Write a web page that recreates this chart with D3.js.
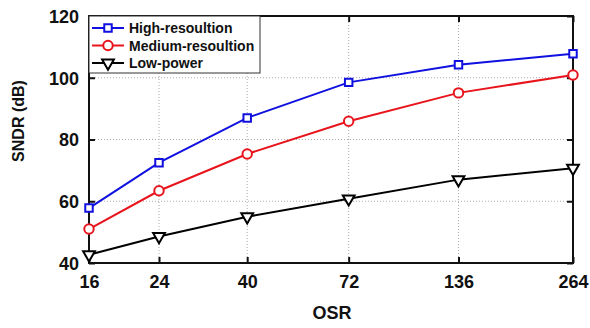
<!DOCTYPE html>
<html>
<head>
<meta charset="utf-8">
<script src="https://cdn.jsdelivr.net/npm/d3@7"></script>
<style>
  body { margin: 0; background: #fff; }
  svg { display: block; font-family: Arial, 'Liberation Sans', sans-serif; font-weight: bold; }
</style>
</head>
<body>
<div id="chart"></div>
<script>
// data
const osr = [16, 24, 40, 72, 136, 264]
const highRes = [57.8, 72.5, 87.0, 98.5, 104.2, 107.8]
const mediumRes = [51.0, 63.4, 75.3, 85.9, 95.1, 100.9]
const lowPower = [42.7, 48.6, 55.0, 60.8, 67.0, 70.7]
const yTicks = [40, 60, 80, 100, 120]

const series = [
  { name: 'High-resoultion', values: highRes, color: '#1010e0', marker: 'square' },
  { name: 'Medium-resoultion', values: mediumRes, color: '#e8141c', marker: 'circle' },
  { name: 'Low-power', values: lowPower, color: '#000', marker: 'triangle' }
]

const WIDTH = 590
const HEIGHT = 328
const MARGIN = { top: 16, right: 17, bottom: 65, left: 89 }

const width = WIDTH - MARGIN.left - MARGIN.right
const height = HEIGHT - MARGIN.top - MARGIN.bottom

const x = d3.scaleLog().base(2).domain([16, 264]).range([0, width])
const y = d3.scaleLinear().domain([40, 120]).range([height, 0])

const svg = d3.select('#chart').append('svg')
  .attr('width', WIDTH)
  .attr('height', HEIGHT)

svg.append('rect').attr('width', '100%').attr('height', '100%').attr('fill', 'white')

const g = svg.append('g').attr('transform', `translate(${MARGIN.left}, ${MARGIN.top})`)

// grid
g.append('g').selectAll('line')
  .data(osr.slice(1, -1))
  .join('line')
    .attr('x1', d => x(d)).attr('x2', d => x(d))
    .attr('y1', 0).attr('y2', height)
    .attr('stroke', '#aaa').attr('stroke-width', 1).attr('stroke-dasharray', '1,2')

g.append('g').selectAll('line')
  .data(yTicks.slice(1, -1))
  .join('line')
    .attr('x1', 0).attr('x2', width)
    .attr('y1', d => y(d)).attr('y2', d => y(d))
    .attr('stroke', '#aaa').attr('stroke-width', 1).attr('stroke-dasharray', '1,2')

// axes, ticks pointing inwards on all four sides
const styleAxis = sel => {
  sel.select('.domain').remove()
  sel.selectAll('.tick line').attr('stroke', '#111').attr('stroke-width', 2)
  sel.selectAll('.tick text').attr('fill', '#111').style('font-size', '18px').style('font-weight', 'bold')
}

g.append('g')
  .attr('transform', `translate(0, ${height})`)
  .call(d3.axisBottom(x).tickValues(osr).tickFormat(d3.format('d')).tickSize(-6).tickPadding(12))
  .call(styleAxis)

g.append('g')
  .call(d3.axisTop(x).tickValues(osr).tickFormat('').tickSize(-6))
  .call(styleAxis)

g.append('g')
  .call(d3.axisLeft(y).tickValues(yTicks).tickSize(-6).tickPadding(10))
  .call(styleAxis)

g.append('g')
  .attr('transform', `translate(${width}, 0)`)
  .call(d3.axisRight(y).tickValues(yTicks).tickFormat('').tickSize(-6))
  .call(styleAxis)

g.selectAll('.tick text').attr('dy', null)
g.selectAll('.tick text').filter(function () { return this.parentNode.parentNode.getAttribute('transform') === `translate(0, ${height})` })
  .attr('dy', '0.71em')
g.selectAll('.tick text').filter(function () { return !this.parentNode.parentNode.getAttribute('transform') })
  .attr('dy', '0.36em')

// frame
g.append('rect')
  .attr('width', width).attr('height', height)
  .attr('fill', 'none').attr('stroke', '#111').attr('stroke-width', 2)

// markers
const symbols = {
  square: d3.symbol().type(d3.symbolSquare).size(56),
  circle: d3.symbol().type(d3.symbolCircle).size(70),
  triangle: d3.symbol().type(d3.symbolTriangle).size(60)
}

const drawMarker = (sel, s) => {
  sel.attr('d', symbols[s.marker]())
    .attr('fill', 'white')
    .attr('stroke', s.color)
    .attr('stroke-width', 2)
  if (s.marker === 'triangle') sel.attr('transform', function () { return this.getAttribute('transform') + ' rotate(180)' })
}

const line = d3.line()
  .x((d, i) => x(osr[i]))
  .y(d => y(d))

series.forEach(s => {
  g.append('path')
    .datum(s.values)
    .attr('d', line)
    .attr('fill', 'none')
    .attr('stroke', s.color)
    .attr('stroke-width', 2)

  g.append('g').selectAll('path')
    .data(s.values)
    .join('path')
      .attr('transform', (d, i) => `translate(${x(osr[i])}, ${y(d)})`)
      .call(drawMarker, s)
})

// legend
const legend = g.append('g')
legend.append('rect')
  .attr('x', 0).attr('y', 0)
  .attr('width', 171).attr('height', 57)
  .attr('fill', 'white').attr('stroke', '#333').attr('stroke-width', 1)

series.forEach((s, i) => {
  const row = legend.append('g').attr('transform', `translate(0, ${12 + i * 17.5})`)
  row.append('line')
    .attr('x1', 3).attr('x2', 35)
    .attr('stroke', s.color).attr('stroke-width', 2)
  row.append('path')
    .attr('transform', 'translate(19, 0)')
    .call(drawMarker, s)
  row.append('text')
    .attr('x', 40).attr('dy', '0.36em')
    .style('font-size', '14px')
    .attr('fill', '#111')
    .text(s.name)
})

// axis titles
svg.append('text')
  .attr('x', 332).attr('y', 319)
  .attr('text-anchor', 'middle')
  .style('font-size', '18px')
  .attr('fill', '#111')
  .text('OSR')

svg.append('text')
  .attr('transform', 'translate(24, 121) rotate(-90)')
  .attr('text-anchor', 'middle')
  .style('font-size', '16px')
  .attr('fill', '#111')
  .text('SNDR (dB)')
</script>
</body>
</html>
